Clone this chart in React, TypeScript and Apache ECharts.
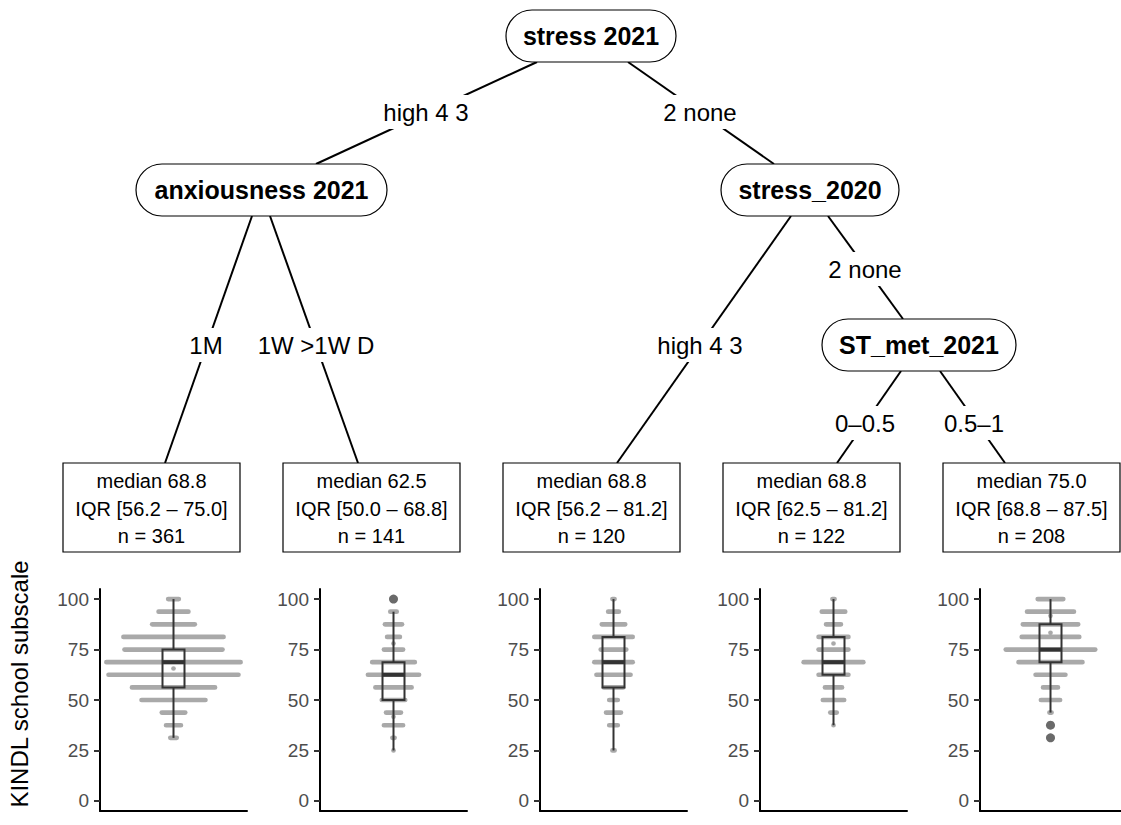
import React, { useEffect, useRef } from "react";
import * as echarts from "echarts";

// ---------- data ----------
const nodeNames = ["stress 2021", "anxiousness 2021", "stress_2020", "ST_met_2021"];
const edgeLabels = ["high 4 3", "2 none", "1M", "1W >1W D", "high 4 3", "2 none", "0–0.5", "0.5–1"];

const leafMedianText = ["68.8", "62.5", "68.8", "68.8", "75.0"];
const leafIqrText = ["56.2 – 75.0", "50.0 – 68.8", "56.2 – 81.2", "62.5 – 81.2", "68.8 – 87.5"];
const leafN = [361, 141, 120, 122, 208];

// [whisker low, Q1, median, Q3, whisker high]
const boxStats = [
  [31.25, 56.25, 68.75, 75, 100],
  [25, 50, 62.5, 68.75, 93.75],
  [25, 56.25, 68.75, 81.25, 100],
  [37.5, 62.5, 68.75, 81.25, 100],
  [43.75, 68.75, 75, 87.5, 100],
];
const outliers = [[], [100], [], [], [37.5, 31.25]];

// [score, number of stacked dots]
const dots1 = [[100, 6], [93.75, 15], [87.5, 21], [81.25, 48], [75, 47], [68.75, 64], [65.6, 1], [62.5, 62], [56.25, 40], [50, 31], [43.75, 12], [37.5, 8], [31.25, 4]];
const dots2 = [[93.75, 4], [87.5, 9], [81.25, 7], [78, 1], [75, 10], [68.75, 21], [62.5, 25], [56.25, 18], [50, 12], [43.75, 8], [41.7, 1], [37.5, 10], [31.25, 2], [25, 1]];
const dots3 = [[100, 2], [93.75, 6], [87.5, 12], [81.25, 19], [75, 13], [68.75, 19], [62.5, 17], [56.25, 10], [50, 5], [43.75, 8], [37.5, 5], [25, 2]];
const dots4 = [[100, 2], [93.75, 12], [87.5, 8], [81.25, 15], [78, 1], [75, 15], [68.75, 29], [62.5, 15], [56.25, 9], [50, 11], [43.75, 4], [37.5, 1]];
const dots5 = [[100, 13], [93.75, 23], [91.7, 1], [87.5, 27], [83.3, 1], [81.25, 28], [75, 43], [68.75, 31], [62.5, 15], [56.25, 8], [50, 10], [43.75, 2]];
const dotsAll = [dots1, dots2, dots3, dots4, dots5];

const yTicks = [0, 25, 50, 75, 100];
const yTitle = "KINDL school subscale";

// ---------- layout / style ----------
const FONT = "'Liberation Sans', Arial, Helvetica, sans-serif";
const PANEL_LEFT0 = 100;
const PANEL_STEP = 220;
const PANEL_W = 147;
const PANEL_TOP = 589;
const PANEL_H = 222;
const DOT_D = 4.7;
const DOT_STEP = 2.13;
const BOX_HALF = 11;

// node capsules [x, y, w, h]
const nodeRects = [
  [506, 10, 170, 52],
  [136, 164, 251, 52],
  [721, 164, 178, 52],
  [822, 319, 194, 52],
];
// edges [x1, y1, x2, y2, labelX, labelY]
const edgeGeom = [
  [537, 62, 316, 164, 426, 112],
  [628, 62, 774, 164, 700, 112],
  [252, 216, 165, 463, 206, 345],
  [270, 216, 358, 463, 316, 345],
  [791, 216, 617, 463, 700, 345],
  [828, 216, 903, 319, 865, 269],
  [901, 371, 837, 463, 865, 423],
  [940, 371, 1005, 463, 974, 423],
];
const LEAF_X0 = 63;
const LEAF_Y = 463;
const LEAF_W = 177;
const LEAF_H = 89;

function buildOption() {
  const grid: any[] = [];
  const xAxis: any[] = [];
  const yAxis: any[] = [];
  const series: any[] = [];

  dotsAll.forEach((dots, i) => {
    grid.push({ left: PANEL_LEFT0 + i * PANEL_STEP, top: PANEL_TOP, width: PANEL_W, height: PANEL_H });
    xAxis.push({
      gridIndex: i, type: "value", min: -1, max: 1,
      axisLine: { show: true, onZero: false, lineStyle: { color: "#000", width: 2 } },
      axisTick: { show: false }, axisLabel: { show: false }, splitLine: { show: false },
    });
    yAxis.push({
      gridIndex: i, type: "value", min: -5, max: 105,
      axisLine: { show: true, onZero: false, lineStyle: { color: "#000", width: 2 } },
      axisTick: { show: true, length: 6, customValues: yTicks, lineStyle: { color: "#333", width: 2 } },
      axisLabel: { customValues: yTicks, color: "#4d4d4d", fontSize: 19, fontFamily: FONT, margin: 11 },
      splitLine: { show: false },
    });
    series.push({
      type: "custom", xAxisIndex: i, yAxisIndex: i,
      data: dots.map(([v, n]) => [0, v, n]),
      encode: { x: 0, y: 1 },
      renderItem: (params: any, api: any) => {
        const p = api.coord([api.value(0), api.value(1)]);
        const n = api.value(2);
        const w = (n - 1) * DOT_STEP + DOT_D;
        return {
          type: "rect",
          shape: { x: p[0] - w / 2, y: p[1] - DOT_D / 2, width: w, height: DOT_D, r: DOT_D / 2 },
          style: { fill: "#a9a9a9" },
        };
      },
      z: 2,
    });
    series.push({
      type: "custom", xAxisIndex: i, yAxisIndex: i,
      data: [[0, ...boxStats[i]]],
      encode: { x: 0, y: [1, 2, 3, 4, 5] },
      renderItem: (params: any, api: any) => {
        const c = (k: number) => api.coord([api.value(0), api.value(k)]);
        const x = c(3)[0];
        const yMin = c(1)[1], yQ1 = c(2)[1], yMed = c(3)[1], yQ3 = c(4)[1], yMax = c(5)[1];
        const st = { stroke: "#333333", lineWidth: 2 };
        return {
          type: "group",
          children: [
            { type: "line", shape: { x1: x, y1: yMax, x2: x, y2: yQ3 }, style: st },
            { type: "line", shape: { x1: x, y1: yQ1, x2: x, y2: yMin }, style: st },
            { type: "rect", shape: { x: x - BOX_HALF, y: yQ3, width: 2 * BOX_HALF, height: yQ1 - yQ3 }, style: { fill: "rgba(0,0,0,0)", stroke: "#333333", lineWidth: 2 } },
            { type: "line", shape: { x1: x - BOX_HALF, y1: yMed, x2: x + BOX_HALF, y2: yMed }, style: { stroke: "#333333", lineWidth: 4 } },
          ],
        };
      },
      z: 3,
    });
    series.push({
      type: "scatter", xAxisIndex: i, yAxisIndex: i,
      data: outliers[i].map((v) => [0, v]),
      symbolSize: 9,
      itemStyle: { color: "#454545" },
      z: 4,
    });
  });

  const graphic: any[] = [];
  edgeGeom.forEach(([x1, y1, x2, y2, lx, ly], k) => {
    graphic.push({ type: "line", z: 10, shape: { x1, y1, x2, y2 }, style: { stroke: "#000", lineWidth: 2 } });
    graphic.push({
      type: "text", z: 11, x: lx, y: ly,
      style: {
        text: edgeLabels[k], x: 0, y: 0, align: "center", verticalAlign: "middle",
        fontSize: 24, fontFamily: FONT, fill: "#000", backgroundColor: "#fff", padding: [5, 3],
      },
    });
  });
  nodeRects.forEach(([x, y, w, h], k) => {
    graphic.push({ type: "rect", z: 12, shape: { x, y, width: w, height: h, r: h / 2 }, style: { fill: "#fff", stroke: "#000", lineWidth: 1.2 } });
    graphic.push({
      type: "text", z: 13, x: x + w / 2, y: y + h / 2,
      style: { text: nodeNames[k], x: 0, y: 0, align: "center", verticalAlign: "middle", fontSize: 25, fontWeight: "bold", fontFamily: FONT, fill: "#000" },
    });
  });
  leafN.forEach((n, i) => {
    const x = LEAF_X0 + i * PANEL_STEP;
    graphic.push({ type: "rect", z: 12, shape: { x, y: LEAF_Y, width: LEAF_W, height: LEAF_H }, style: { fill: "#fff", stroke: "#000", lineWidth: 1.2 } });
    graphic.push({
      type: "text", z: 13, x: x + LEAF_W / 2, y: LEAF_Y + LEAF_H / 2 + 1,
      style: {
        text: `median ${leafMedianText[i]}\nIQR [${leafIqrText[i]}]\nn = ${n}`,
        x: 0, y: 0, align: "center", verticalAlign: "middle",
        fontSize: 20, lineHeight: 27.5, fontFamily: FONT, fill: "#000",
      },
    });
  });
  graphic.push({
    type: "text", z: 13, x: 19, y: 684, rotation: Math.PI / 2,
    style: { text: yTitle, x: 0, y: 0, align: "center", verticalAlign: "middle", fontSize: 24, fontFamily: FONT, fill: "#000" },
  });

  return { animation: false, backgroundColor: "#fff", grid, xAxis, yAxis, series, graphic };
}

export default function App() {
  const ref = useRef<HTMLDivElement>(null);
  useEffect(() => {
    if (!ref.current) return;
    const chart = echarts.init(ref.current, undefined, { renderer: "svg" });
    chart.setOption(buildOption() as any);
    return () => chart.dispose();
  }, []);
  return <div ref={ref} style={{ position: "fixed", left: 0, top: 0, width: 1121, height: 825 }} />;
}
